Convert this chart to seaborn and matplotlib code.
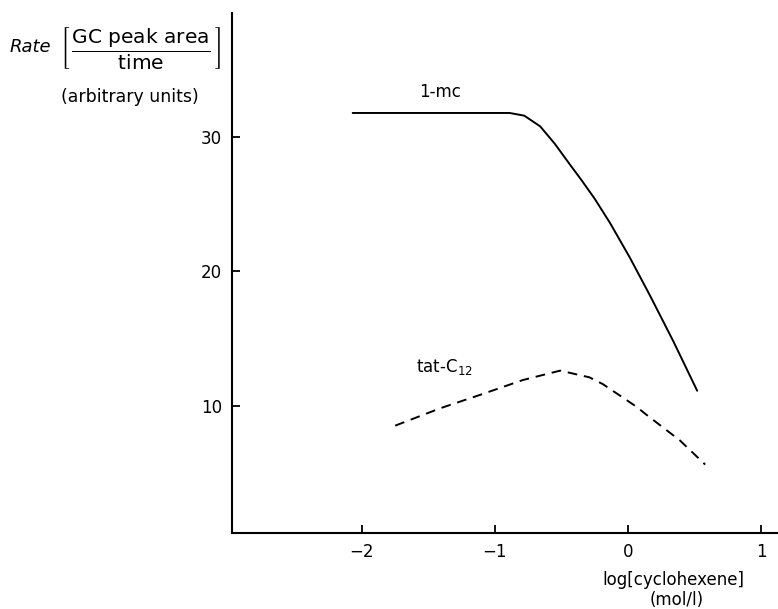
import matplotlib
matplotlib.use("Agg")
import matplotlib.pyplot as plt
import seaborn as sns
import pandas as pd

# 1-mc (solid) and tat-C12 (dashed) rate curves
mc_x = [-2.07, -1.5, -0.89, -0.78, -0.66, -0.55, -0.44, -0.35, -0.25, -0.135, 0.015, 0.165, 0.34, 0.52]
mc_y = [31.8, 31.8, 31.8, 31.6, 30.8, 29.5, 28.0, 26.8, 25.4, 23.6, 21.0, 18.2, 14.8, 11.1]

tat_x = [-1.75, -1.41, -1.11, -0.79, -0.51, -0.29, -0.19, 0.065, 0.14, 0.39, 0.58]
tat_y = [8.5, 9.8, 10.8, 11.9, 12.6, 12.1, 11.6, 9.9, 9.3, 7.4, 5.6]

x_ticks = [-2, -1, 0, 1]
y_ticks = [10, 20, 30]

mc = pd.DataFrame({"x": mc_x, "rate": mc_y})
tat = pd.DataFrame({"x": tat_x, "rate": tat_y})

sns.set_style("ticks")
plt.rcParams["font.family"] = ["DejaVu Sans"]
plt.rcParams["mathtext.fontset"] = "dejavusans"
plt.rcParams["text.color"] = "black"

W, H = 778, 609
fig = plt.figure(figsize=(W / 100, H / 100), dpi=100)
ax = fig.add_axes([232 / W, (H - 533) / H, (777 - 232) / W, (533 - 13) / H])

sns.lineplot(data=mc, x="x", y="rate", ax=ax, color="black", lw=1.4, sort=False)
sns.lineplot(data=tat, x="x", y="rate", ax=ax, color="black", lw=1.4, sort=False,
             linestyle=(0, (5, 3.5)))

ax.set_xlim(-2.977, 1.12)
ax.set_ylim(0.5, 39.25)
ax.set_xticks(x_ticks)
ax.set_xticklabels(["\u22122", "\u22121", "0", "1"])
ax.set_yticks(y_ticks)
ax.tick_params(direction="in", length=6, width=1.3, labelsize=12, pad=7,
               colors="black", labelcolor="black")
for s in ["top", "right"]:
    ax.spines[s].set_visible(False)
for s in ["left", "bottom"]:
    ax.spines[s].set_linewidth(1.5)
    ax.spines[s].set_color("black")
ax.set_xlabel("")
ax.set_ylabel("")

# curve labels
ax.text(-1.41, 33.4, "1-mc", ha="center", va="center", fontsize=12)
ax.text(-1.38, 12.9, r"tat-C$_{12}$", ha="center", va="center", fontsize=12)

# axis titles
fig.text(10 / W, 1 - 47 / H, "Rate", style="italic", fontsize=13, ha="left", va="center")
fig.text(141 / W, 1 - 48 / H,
         r"$\left[\,\dfrac{\mathrm{GC\ peak\ area}}{\mathrm{time}}\,\right]$",
         fontsize=14.5, ha="center", va="center")
fig.text(130 / W, 1 - 97 / H, "(arbitrary units)", fontsize=12.5, ha="center", va="center")
fig.text(673 / W, 1 - 580 / H, "log[cyclohexene]", fontsize=12, ha="center", va="center")
fig.text(677 / W, 1 - 600 / H, "(mol/l)", fontsize=12, ha="center", va="center")

fig.savefig("out.png", dpi=100)
